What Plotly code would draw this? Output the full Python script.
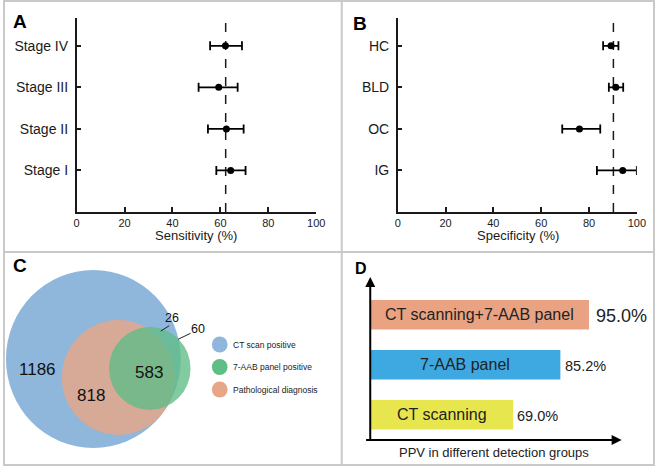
import plotly.graph_objects as go

W, H = 664, 466

# ---------------- data ----------------
# Panel A: sensitivity by stage
stages = ["Stage I", "Stage II", "Stage III", "Stage IV"]
sens_est = [64.3, 62.5, 59.3, 62.1]
sens_lo = [58.3, 54.8, 50.9, 55.7]
sens_hi = [70.5, 69.7, 67.2, 69.0]
sens_ref = 62.2

# Panel B: specificity by control group
groups = ["IG", "OC", "BLD", "HC"]
spec_est = [94.1, 76.0, 91.2, 89.2]
spec_lo = [83.3, 68.8, 88.3, 85.9]
spec_hi = [100.0, 84.7, 94.3, 92.3]
spec_ref = 90.2

pct_ticks = [0, 20, 40, 60, 80, 100]

# Panel C: Venn counts
venn_counts = [1186, 818, 583, 26, 60]
venn_sets = ["CT scan positive", "7-AAB panel positive", "Pathological diagnosis"]

# Panel D: PPV
methods = ["CT scanning", "7-AAB panel", "CT scanning+7-AAB panel"]
ppv = [69.0, 85.2, 95.0]

# ---------------- styling helpers ----------------
FONT = "Liberation Sans, Arial, sans-serif"
INK = "#1a1a1a"


def px(x):
    return x / W


def py(y):
    return 1 - y / H


fig = go.Figure()

pos = [1, 2, 3, 4]

# Panel A
fig.add_trace(go.Scatter(
    x=sens_est, y=pos, mode="markers", xaxis="x", yaxis="y",
    marker=dict(color="black", size=7),
    error_x=dict(type="data", symmetric=False,
                 array=[h - e for h, e in zip(sens_hi, sens_est)],
                 arrayminus=[e - l for e, l in zip(sens_est, sens_lo)],
                 color="black", thickness=1.8, width=4.5),
    showlegend=False, hoverinfo="skip"))

# Panel B
fig.add_trace(go.Scatter(
    x=spec_est, y=pos, mode="markers", xaxis="x2", yaxis="y2",
    marker=dict(color="black", size=7),
    error_x=dict(type="data", symmetric=False,
                 array=[h - e for h, e in zip(spec_hi, spec_est)],
                 arrayminus=[e - l for e, l in zip(spec_est, spec_lo)],
                 color="black", thickness=1.8, width=4.5),
    showlegend=False, hoverinfo="skip"))

# Panel D bars
bar_colors = ["#e8e64e", "#3ea9e0", "#e9a282"]
D_X0 = 20
fig.add_trace(go.Bar(
    x=ppv, y=methods, orientation="h", xaxis="x4", yaxis="y4",
    marker=dict(color=bar_colors, line=dict(width=0)), width=0.59,
    showlegend=False, hoverinfo="skip"))

# ---------------- axes ----------------
ydom = [py(212), py(18)]
common_x = dict(range=[0, 100], tickvals=pct_ticks, ticks="inside", ticklen=5,
                tickwidth=1.5, tickcolor=INK, showline=True, linecolor=INK,
                linewidth=1.5, showgrid=False, zeroline=False,
                tickfont=dict(family=FONT, size=11, color=INK), fixedrange=True)
common_y = dict(range=[0, 4.67], tickvals=pos, ticks="inside", ticklen=5,
                tickwidth=1.5, tickcolor=INK, showline=True, linecolor=INK,
                linewidth=1.5, showgrid=False, zeroline=False, ticklabelstandoff=4,
                tickfont=dict(family=FONT, size=14, color=INK), fixedrange=True)

layout = dict(
    width=W, height=H, margin=dict(l=0, r=0, t=0, b=0),
    paper_bgcolor="white", plot_bgcolor="rgba(0,0,0,0)",
    xaxis=dict(common_x, domain=[px(75), px(319)], anchor="y"),
    yaxis=dict(common_y, domain=ydom, ticktext=stages, anchor="x"),
    xaxis2=dict(common_x, domain=[px(402), px(645.5)], anchor="y2"),
    yaxis2=dict(common_y, domain=ydom, ticktext=groups, anchor="x2"),
    xaxis3=dict(domain=[0, px(344)], range=[0, 344], visible=False,
                anchor="y3", fixedrange=True),
    yaxis3=dict(domain=[0, py(253)], range=[466, 253], visible=False,
                anchor="x3", fixedrange=True),
    xaxis4=dict(domain=[px(374), px(628)], range=[D_X0, D_X0 + 254 / 2.97],
                visible=False, anchor="y4", fixedrange=True),
    yaxis4=dict(domain=[py(440), py(278)], range=[-0.506, 2.734],
                visible=False, anchor="x4", fixedrange=True),
    showlegend=False,
)
fig.update_layout(**layout)

shapes = []
annotations = []


def paper_text(text, x, y, size, color=INK):
    return dict(text=text, x=px(x), y=py(y), xref="paper", yref="paper",
                xanchor="center", yanchor="middle", showarrow=False,
                font=dict(family=FONT, size=size, color=color))


# reference dashed lines
for xr, yr, v in (("x", "y domain", sens_ref), ("x2", "y2 domain", spec_ref)):
    shapes.append(dict(type="line", xref=xr, yref=yr, x0=v, x1=v, y0=0, y1=0.975,
                       line=dict(color=INK, width=1.5, dash="dash"), layer="below"))

# axis titles
annotations.append(paper_text("Sensitivity (%)", 197, 235.5, 13))
annotations.append(paper_text("Specificity (%)", 524, 235.5, 13))

# panel letters
for t, x, y, s in (("A", 17, 22, 19), ("B", 364, 23, 19), ("C", 17, 265, 19), ("D", 365, 268, 16)):
    annotations.append(paper_text("<b>%s</b>" % t, x, y, s, "black"))

# Panel C Venn circles (geometry only)
CT_BLUE = "#8fb6db"
AAB_GREEN = "#5fbd86"
PATH_ORANGE = "#e7a688"
venn_geom = [  # cx, cy, r, colour, opacity
    (92, 359, 89, CT_BLUE, 1.0),
    (117.5, 377.5, 57.5, PATH_ORANGE, 0.82),
    (149.5, 368.5, 41.5, AAB_GREEN, 0.78),
]
for cx, cy, r, col, op in venn_geom:
    shapes.append(dict(type="circle", xref="x3", yref="y3", x0=cx - r, x1=cx + r,
                       y0=cy - r, y1=cy + r, fillcolor=col, opacity=op,
                       line=dict(width=0), layer="below"))

venn_text_pos = [(35, 369, 17), (90, 395, 17), (148.5, 372, 17), (172.5, 317.5, 12.5), (199, 328.5, 12.5)]
for n, (x, y, s) in zip(venn_counts, venn_text_pos):
    annotations.append(dict(text=str(n), x=x, y=y, xref="x3", yref="y3", showarrow=False,
                            xanchor="center", yanchor="middle",
                            font=dict(family=FONT, size=s, color="#111")))
# leader lines
for (x0, y0, x1, y1) in ((169.3, 325.7, 160.7, 331), (191, 333.3, 178.3, 339.3)):
    shapes.append(dict(type="line", xref="x3", yref="y3", x0=x0, y0=y0, x1=x1, y1=y1,
                       line=dict(color="#222", width=1)))

# legend
leg_cols = [CT_BLUE, AAB_GREEN, PATH_ORANGE]
leg_y = [344.5, 367, 389.5]
for name, col, y in zip(venn_sets, leg_cols, leg_y):
    shapes.append(dict(type="circle", xref="x3", yref="y3", x0=220.7 - 8, x1=220.7 + 8,
                       y0=y - 8, y1=y + 8, fillcolor=col, line=dict(width=0)))
    annotations.append(dict(text=name, x=232, y=y, xref="x3", yref="y3", xanchor="left",
                            yanchor="middle", showarrow=False,
                            font=dict(family=FONT, size=8.5, color="#222")))

# Panel D labels
name_sizes = [16, 16, 16]
val_sizes = [14.5, 14.5, 18]
val_shift = [2, 3, 5]
for m, v, ns, vs, sh in zip(methods, ppv, name_sizes, val_sizes, val_shift):
    annotations.append(dict(text=m, x=(D_X0 + v) / 2, y=m, xref="x4", yref="y4",
                            xanchor="center", yanchor="middle", showarrow=False,
                            font=dict(family=FONT, size=ns, color="#222")))
    annotations.append(dict(text="%.1f%%" % v, x=v, y=m, xref="x4", yref="y4",
                            xanchor="left", yanchor="middle", xshift=sh, yshift=-1,
                            showarrow=False, font=dict(family=FONT, size=vs, color="#222")))

# Panel D arrow axes
annotations.append(dict(text="", x=px(374), y=py(277), xref="paper", yref="paper",
                        ax=0, ay=164, showarrow=True, arrowhead=2, arrowsize=1,
                        arrowwidth=2, arrowcolor="black", standoff=0))
annotations.append(dict(text="", x=px(630), y=py(440), xref="paper", yref="paper",
                        ax=-257, ay=0, showarrow=True, arrowhead=2, arrowsize=1,
                        arrowwidth=2, arrowcolor="black", standoff=0))
annotations.append(paper_text("PPV in different detection groups", 500, 452, 13, "#222"))

# panel borders
BORDER = "#c9c9c9"
shapes.append(dict(type="rect", xref="paper", yref="paper", x0=px(1), x1=px(663),
                   y0=py(465), y1=py(1), line=dict(color=BORDER, width=2)))
shapes.append(dict(type="line", xref="paper", yref="paper", x0=px(345), x1=px(345),
                   y0=0, y1=1, line=dict(color=BORDER, width=2)))
shapes.append(dict(type="line", xref="paper", yref="paper", x0=0, x1=1,
                   y0=py(252), y1=py(252), line=dict(color=BORDER, width=2)))

fig.update_layout(shapes=shapes, annotations=annotations)

page_fix = (
    "var s=document.createElement('style');"
    "s.innerHTML='html,body{margin:0;padding:0;overflow:hidden;width:664px;height:466px;}"
    "body>div{height:466px;overflow:hidden;}';"
    "document.head.appendChild(s);"
)
fig.write_html("out.html", config={"displayModeBar": False}, post_script=page_fix)
